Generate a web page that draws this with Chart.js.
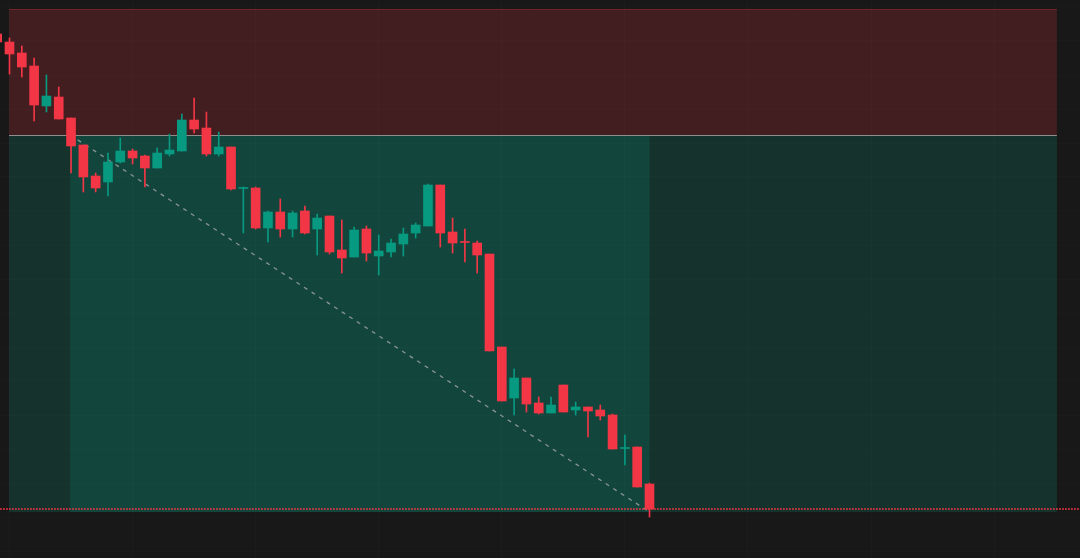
<!DOCTYPE html>
<html>
<head>
<meta charset="utf-8">
<script src="https://cdn.jsdelivr.net/npm/chart.js@4/dist/chart.umd.min.js"></script>
<style>
  html, body { margin: 0; padding: 0; background: #181818; overflow: hidden; }
  #wrap { width: 1080px; height: 558px; }
</style>
</head>
<body>
<div id="wrap"><canvas id="chart"></canvas></div>
<script>
// OHLC per bar
const open  = [142.6, 141.8, 140.7, 139.4, 135.4, 136.3, 134.2, 131.5, 128.4, 127.8,
               129.8, 130.9, 130.4, 129.2, 130.6, 130.9, 134.0, 133.2, 130.6, 131.3,
               127.15, 127.2, 123.2, 124.8, 123.1, 124.9, 123.1, 124.4, 121.0, 120.3,
               123.1, 120.4, 120.8, 121.6, 122.7, 123.4, 127.5, 122.8, 121.85, 121.7,
               120.6, 111.3, 106.2, 108.2, 105.7, 104.7, 107.5, 105.0, 105.3, 105.0,
               104.5, 101.15, 101.3, 97.6];
const high  = [142.6, 142.2, 141.4, 140.2, 138.5, 137.3, 134.2, 131.5, 128.7, 130.7,
               132.2, 131.1, 130.5, 131.2, 132.6, 134.6, 136.2, 134.8, 132.8, 131.3,
               127.3, 127.3, 124.9, 126.1, 124.9, 125.4, 124.6, 124.4, 124.0, 123.3,
               123.4, 122.5, 122.1, 123.2, 123.7, 127.6, 127.5, 124.2, 123.1, 121.9,
               120.6, 111.3, 109.1, 108.2, 106.3, 106.3, 107.5, 105.8, 105.3, 105.5,
               104.6, 102.5, 101.3, 97.7];
const low   = [141.8, 138.6, 138.3, 133.9, 134.8, 134.1, 128.7, 126.8, 126.8, 126.4,
               129.7, 129.6, 127.3, 129.2, 130.4, 130.9, 132.7, 130.4, 130.4, 127.0,
               122.7, 123.1, 121.8, 122.3, 122.3, 122.6, 120.5, 120.6, 118.7, 120.3,
               119.9, 118.5, 120.3, 120.4, 122.2, 123.4, 121.3, 120.7, 119.8, 118.7,
               110.9, 105.9, 104.5, 104.8, 104.6, 104.7, 104.8, 104.5, 102.3, 104.0,
               101.1, 99.5, 97.3, 94.3];
const close = [141.8, 140.6, 139.3, 135.5, 136.4, 134.1, 131.4, 128.3, 127.2, 129.8,
               130.9, 130.2, 129.2, 130.7, 131.0, 134.0, 133.1, 130.6, 131.3, 127.1,
               127.25, 123.2, 124.8, 123.1, 124.7, 122.7, 124.2, 120.8, 120.2, 123.0,
               120.7, 120.9, 121.7, 122.6, 123.5, 127.5, 122.7, 121.7, 121.75, 120.5,
               110.9, 105.9, 108.2, 105.6, 104.7, 105.5, 104.8, 105.3, 104.9, 104.4,
               101.1, 101.25, 97.3, 95.1];
const bars = open.map((_, i) => i);

// short position tool
const STOP = 145.1;
const ENTRY = 132.5;
const TARGET = 94.8;
const LAST_PRICE = 95.15;
const ZONE_LEFT = 0.96;
const ZONE_RIGHT = 86.1;
const POS_START = 5.93;
const POS_END = 53.0;

// visible range and faint grid
const X_MIN = 0.228, X_MAX = 87.978;
const Y_MIN = 90.2, Y_MAX = 146;
const X_GRID = [1, 11, 21, 31, 41, 51, 61, 71, 81];
const Y_GRID = [145.3, 141.9, 138.5, 135.1, 131.7, 128.3, 124.9, 121.5, 118.1,
                114.7, 111.3, 107.9, 104.5, 101.1, 97.7, 94.3, 90.9];

const UP = "#089981";
const DOWN = "#F23645";
const candleColors = bars.map(i => close[i] >= open[i] ? UP : DOWN);

// zones + entry line behind candles, price line on top
const positionTool = {
  id: "positionTool",
  beforeDatasetsDraw(chart) {
    const { ctx, scales: { x, y } } = chart;
    const xl = x.getPixelForValue(ZONE_LEFT);
    const xr = x.getPixelForValue(ZONE_RIGHT);
    const ys = y.getPixelForValue(STOP);
    const ye = y.getPixelForValue(ENTRY);
    const yt = y.getPixelForValue(TARGET);
    const xa = x.getPixelForValue(POS_START);
    const xb = x.getPixelForValue(POS_END);
    ctx.save();
    ctx.fillStyle = "rgba(242,54,69,0.2)";
    ctx.fillRect(xl, ys, xr - xl, ye - ys);
    ctx.fillStyle = "rgba(8,153,129,0.2)";
    ctx.fillRect(xl, ye, xr - xl, yt - ye);
    ctx.fillRect(xa, ye, xb - xa, yt - ye);
    ctx.strokeStyle = "rgba(242,54,69,0.25)";
    ctx.lineWidth = 1;
    ctx.beginPath();
    ctx.moveTo(xl, Math.round(ys) + 0.5);
    ctx.lineTo(xr, Math.round(ys) + 0.5);
    ctx.stroke();
    ctx.strokeStyle = "#8e8e8e";
    ctx.beginPath();
    ctx.moveTo(xl, Math.round(ye) + 0.5);
    ctx.lineTo(xr, Math.round(ye) + 0.5);
    ctx.stroke();
    ctx.restore();
  },
  afterDatasetsDraw(chart) {
    const { ctx, chartArea, scales: { y } } = chart;
    const yp = Math.round(y.getPixelForValue(LAST_PRICE));
    ctx.save();
    ctx.strokeStyle = DOWN;
    ctx.lineWidth = 1.5;
    ctx.setLineDash([1.8, 1.2]);
    ctx.beginPath();
    ctx.moveTo(chartArea.left, yp);
    ctx.lineTo(chartArea.right, yp);
    ctx.stroke();
    ctx.restore();
  }
};

new Chart(document.getElementById("chart"), {
  type: "bar",
  data: {
    datasets: [
      {
        type: "line",
        data: [{ x: POS_START, y: ENTRY }, { x: POS_END, y: TARGET }],
        borderColor: "#8a9491",
        borderWidth: 1.3,
        borderDash: [4, 5],
        pointRadius: 0,
        order: 3
      },
      {
        label: "wick",
        data: bars.map(i => ({ x: i, y: [low[i], high[i]] })),
        backgroundColor: candleColors,
        barThickness: 1,
        grouped: false,
        borderWidth: 0,
        order: 2
      },
      {
        label: "body",
        data: bars.map(i => ({ x: i, y: [open[i], close[i]] })),
        backgroundColor: candleColors,
        barThickness: 9,
        grouped: false,
        borderWidth: 0,
        borderSkipped: false,
        order: 1
      }
    ]
  },
  options: {
    responsive: true,
    maintainAspectRatio: false,
    animation: false,
    devicePixelRatio: 1,
    layout: { padding: 0 },
    plugins: {
      legend: { display: false },
      tooltip: { enabled: false }
    },
    scales: {
      x: {
        type: "linear",
        min: X_MIN,
        max: X_MAX,
        offset: false,
        afterBuildTicks: s => { s.ticks = X_GRID.map(v => ({ value: v })); },
        ticks: { display: false },
        grid: { color: "rgba(255,255,255,0.02)", drawTicks: false, offset: false },
        border: { display: false }
      },
      y: {
        type: "linear",
        min: Y_MIN,
        max: Y_MAX,
        afterBuildTicks: s => { s.ticks = Y_GRID.map(v => ({ value: v })); },
        ticks: { display: false },
        grid: { color: "rgba(255,255,255,0.015)", drawTicks: false },
        border: { display: false }
      }
    }
  },
  plugins: [positionTool]
});
</script>
</body>
</html>
